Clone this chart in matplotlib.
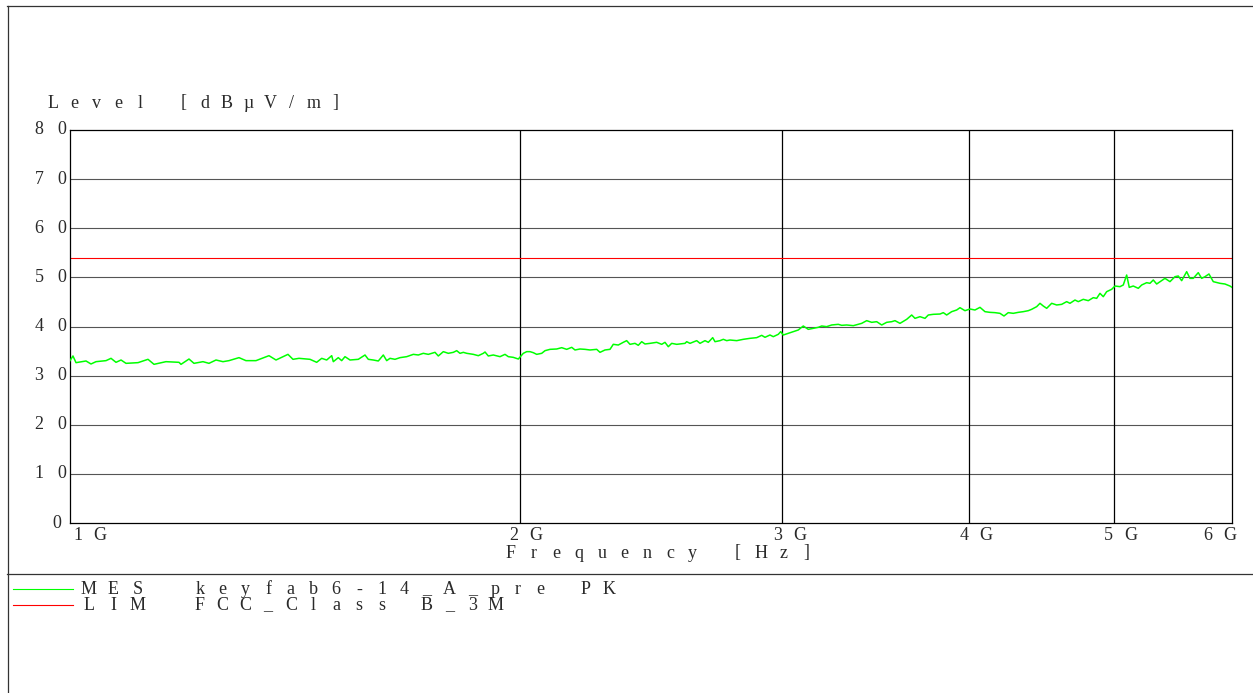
import matplotlib
matplotlib.use("Agg")
import matplotlib.pyplot as plt
from matplotlib.lines import Line2D
from matplotlib.transforms import offset_copy

W, H = 1253, 693

# MES trace (frequency in MHz, level in dBuV/m)
mes_freq_mhz = [
    1000, 1004.6, 1009.3, 1025.0, 1032.9, 1040.9, 1057.1, 1065.3, 1073.5, 1081.9,
    1090.2, 1110.6, 1127.8, 1138.3, 1159.5, 1183.0, 1186.7, 1201.4, 1210.7, 1227.6,
    1239.0, 1252.5, 1266.0, 1277.8, 1297.7, 1311.7, 1332.1, 1359.1, 1373.9, 1399.5,
    1410.3, 1423.5,
    1447.8, 1462.8, 1474.2, 1485.6, 1497.1, 1500.8, 1512.4, 1520.3, 1528.1, 1540.0,
    1559.8, 1576.0, 1584.0, 1596.3, 1608.7, 1621.1, 1629.6, 1637.9, 1650.6, 1663.4,
    1680.7, 1697.9, 1711.0, 1724.2, 1737.6, 1755.6, 1764.6, 1778.3, 1792.0, 1805.9,
    1815.4, 1824.6, 1834.0, 1843.6, 1862.5, 1876.9, 1891.4, 1896.4, 1906.0, 1920.8,
    1940.7, 1955.7, 1965.7, 1980.9, 1996.3, 2011.7, 2022.3,
    2032.6, 2043.0, 2053.7, 2069.6, 2080.2, 2096.2, 2118.0, 2134.4, 2150.9, 2167.6,
    2178.6, 2195.5, 2212.5, 2229.6, 2252.7, 2264.2, 2281.7, 2299.4, 2311.1, 2329.0,
    2347.0, 2359.3, 2371.4, 2389.7, 2401.9, 2414.6, 2426.9, 2445.7, 2471.1, 2490.2,
    2502.9, 2515.7, 2528.9, 2548.5, 2581.3, 2588.1, 2601.3, 2628.4, 2641.8, 2662.2,
    2675.8, 2694.0, 2703.6, 2724.5, 2738.4, 2752.8, 2766.8, 2795.6, 2824.2, 2853.4,
    2883.1, 2905.4, 2920.2, 2942.8,
    2957.8, 2980.7, 2991.8, 3003.8, 3027.0, 3050.5, 3074.0, 3097.8, 3121.8, 3145.9,
    3170.3, 3186.9, 3211.6, 3236.5, 3269.6, 3286.8, 3312.2, 3346.1, 3372.0, 3389.7,
    3416.0, 3442.4, 3469.1, 3495.9, 3523.0, 3550.2, 3568.4, 3596.0, 3633.3, 3661.4,
    3680.1, 3708.6, 3737.3, 3756.4, 3785.4, 3824.8, 3844.3, 3864.4, 3894.3, 3924.5,
    3944.5, 3975.0, 4005.8, 4036.7, 4068.1, 4099.5, 4131.2,
    4163.2, 4195.4, 4221.4, 4249.4, 4282.3, 4315.5, 4348.9, 4382.5, 4405.6, 4439.7,
    4462.3, 4485.1, 4508.7, 4543.6, 4578.7, 4614.2, 4649.9, 4673.6, 4709.8, 4733.8,
    4770.4, 4807.4, 4844.6, 4869.9, 4894.8, 4919.8, 4945.6, 4983.9, 5009.3, 5048.1,
    5073.9, 5100.5, 5121.0, 5152.7, 5192.6, 5219.9, 5260.3, 5287.1, 5314.1, 5342.0,
    5383.4, 5410.8, 5452.7, 5494.9, 5522.9, 5552.0, 5594.9, 5623.5, 5652.2, 5695.9,
    5725.8, 5755.0, 5790.6, 5829.2, 5889.7, 5935.3, 5981.2, 6000,
]
mes_level = [
    33.05, 34.00, 32.64, 32.98, 32.37, 32.84, 33.05, 33.52, 32.71, 33.18,
    32.50, 32.64, 33.32, 32.30, 32.84, 32.71, 32.30, 33.38, 32.50, 32.84,
    32.50, 33.18, 32.84, 33.05, 33.66, 33.05, 33.05, 34.06, 33.18, 34.33,
    33.32, 33.52,
    33.32, 32.71, 33.52, 33.18, 34.06, 32.84, 33.66, 33.05, 33.86, 33.18,
    33.32, 34.20, 33.32, 33.18, 32.98, 34.20, 33.05, 33.52, 33.32, 33.66,
    33.86, 34.33, 34.20, 34.54, 34.33, 34.74, 34.00, 34.88, 34.54, 34.74,
    35.08, 34.54, 34.74, 34.54, 34.33, 34.06, 34.54, 34.81, 34.00, 34.20,
    33.86, 34.33, 33.86, 33.72, 33.38, 34.54, 34.88,
    34.88, 34.67, 34.33, 34.54, 35.08, 35.35, 35.42, 35.69, 35.35, 35.76,
    35.22, 35.42, 35.35, 35.22, 35.35, 34.74, 35.22, 35.35, 36.37, 36.23,
    36.78, 37.12, 36.37, 36.57, 36.17, 36.91, 36.44, 36.57, 36.78, 36.37,
    36.78, 35.89, 36.57, 36.37, 36.57, 36.91, 36.57, 37.12, 36.57, 37.12,
    36.78, 37.73, 36.91, 37.12, 37.39, 37.12, 37.25, 37.12, 37.39, 37.59,
    37.73, 38.20, 37.80, 38.27,
    37.93, 38.41, 38.95, 38.27, 38.61, 38.95, 39.29, 40.10, 39.42, 39.63,
    39.83, 40.10, 39.97, 40.31, 40.44, 40.24, 40.31, 40.17, 40.44, 40.64,
    41.19, 40.85, 40.98, 40.31, 40.85, 40.98, 41.19, 40.64, 41.46, 42.34,
    41.66, 42.00, 41.66, 42.34, 42.48, 42.54, 42.82, 42.34, 43.02, 43.36,
    43.83, 43.22, 43.56, 43.36, 43.90, 43.02, 42.88,
    42.82, 42.68, 42.14, 42.82, 42.68, 42.88, 43.02, 43.22, 43.50, 44.04,
    44.72, 44.17, 43.70, 44.72, 44.38, 44.51, 45.06, 44.72, 45.39, 45.06,
    45.53, 45.26, 45.87, 45.73, 46.75, 46.07, 47.09, 47.57, 48.24, 48.11,
    48.45, 50.48, 47.97, 48.24, 47.77, 48.45, 48.92, 48.79, 49.47, 48.65,
    49.33, 49.80, 49.13, 50.14, 50.28, 49.33, 51.16, 49.80, 49.80, 50.96,
    49.80, 50.14, 50.69, 49.13, 48.79, 48.65, 48.24, 47.97,
]

# FCC class B 3 m limit
lim_freq_mhz = [1000, 6000]
lim_level = [54, 54]

y_ticks = [0, 10, 20, 30, 40, 50, 60, 70, 80]
y_tick_labels = ["0", "10", "20", "30", "40", "50", "60", "70", "80"]
x_ticks_mhz = [1000, 2000, 3000, 4000, 5000, 6000]
x_tick_labels = ["1G", "2G", "3G", "4G", "5G", "6G"]
y_title = "Level [dBµV/m]"
x_title = "Frequency [Hz]"
legend_rows = [
    ("MES", "keyfab6-14_A_pre PK", "#00ff00"),
    ("LIM", "FCC_Class B_3M", "#ff0000"),
]

TXT = dict(family="Liberation Serif", fontsize=13, color="#2a2a2a")

fig = plt.figure(figsize=(W / 100, H / 100), dpi=100)
ax = fig.add_axes([70 / W, 1 - 523 / H, (1232 - 70) / W, (523 - 130) / H])


def spaced(trans, x, y, s, pitch, dx0=0, dy=0):
    # the receiver printout uses very wide tracking, so put one glyph per cell
    for i, ch in enumerate(s):
        if ch == " ":
            continue
        t = offset_copy(trans, fig=fig, x=dx0 + i * pitch, y=dy, units="dots")
        fig.text(x, y, ch, transform=t, ha="center", va="center", **TXT)


ax.set_xscale("log")
ax.set_xlim(x_ticks_mhz[0], x_ticks_mhz[-1])
ax.set_ylim(y_ticks[0], y_ticks[-1])
ax.set_xticks([])
ax.set_yticks([])
ax.minorticks_off()
for side in ["left", "right", "top", "bottom"]:
    ax.spines[side].set_color("black")
    ax.spines[side].set_linewidth(0.9)

for v in y_ticks[1:-1]:
    ax.axhline(v, color="#555555", lw=0.8, zorder=1)
for f in x_ticks_mhz[1:-1]:
    ax.axvline(f, color="black", lw=0.9, zorder=1)

ax.plot(lim_freq_mhz, lim_level, color="#ff0000", lw=0.8, zorder=2)
ax.plot(mes_freq_mhz, mes_level, color="#00ff00", lw=1.1, zorder=3)

# tick labels
ytr = ax.get_yaxis_transform()
for v, lab in zip(y_ticks, y_tick_labels):
    if len(lab) == 1:
        spaced(ytr, 0, v, lab, 23, dx0=-13)
    else:
        spaced(ytr, 0, v, lab, 23, dx0=-8 - (len(lab) - 1) * 23)

xtr = ax.get_xaxis_transform()
x_shift = [8, -6, -5, -5, -5, -24]
for f, lab, sh in zip(x_ticks_mhz, x_tick_labels, x_shift):
    spaced(xtr, f, 0, lab, 22, dx0=sh, dy=-13)

# axis titles
spaced(fig.transFigure, 53 / W, 1 - 103 / H, y_title, 21.7)
spaced(fig.transFigure, 511 / W, 1 - 553 / H, x_title, 22.7)

# frame of the printout
frame = dict(color="#333333", lw=0.9, transform=fig.transFigure)
fig.add_artist(Line2D([7 / W, 1], [1 - 5.5 / H, 1 - 5.5 / H], **frame))
fig.add_artist(Line2D([7.5 / W, 7.5 / W], [0, 1 - 5.5 / H], **frame))
fig.add_artist(Line2D([7 / W, 1], [1 - 573.5 / H, 1 - 573.5 / H], **frame))

# legend block
for k, (tag, name, col) in enumerate(legend_rows):
    yy = 589 + 16 * k
    fig.add_artist(Line2D([13 / W, 73 / W], [1 - yy / H, 1 - yy / H],
                          color=col, lw=0.8, transform=fig.transFigure))
    spaced(fig.transFigure, 89 / W, 1 - (yy + 1) / H, tag, 24.5)
    spaced(fig.transFigure, 200 / W, 1 - (yy + 1) / H, name, 22.7)

fig.savefig("out.png", dpi=100)
